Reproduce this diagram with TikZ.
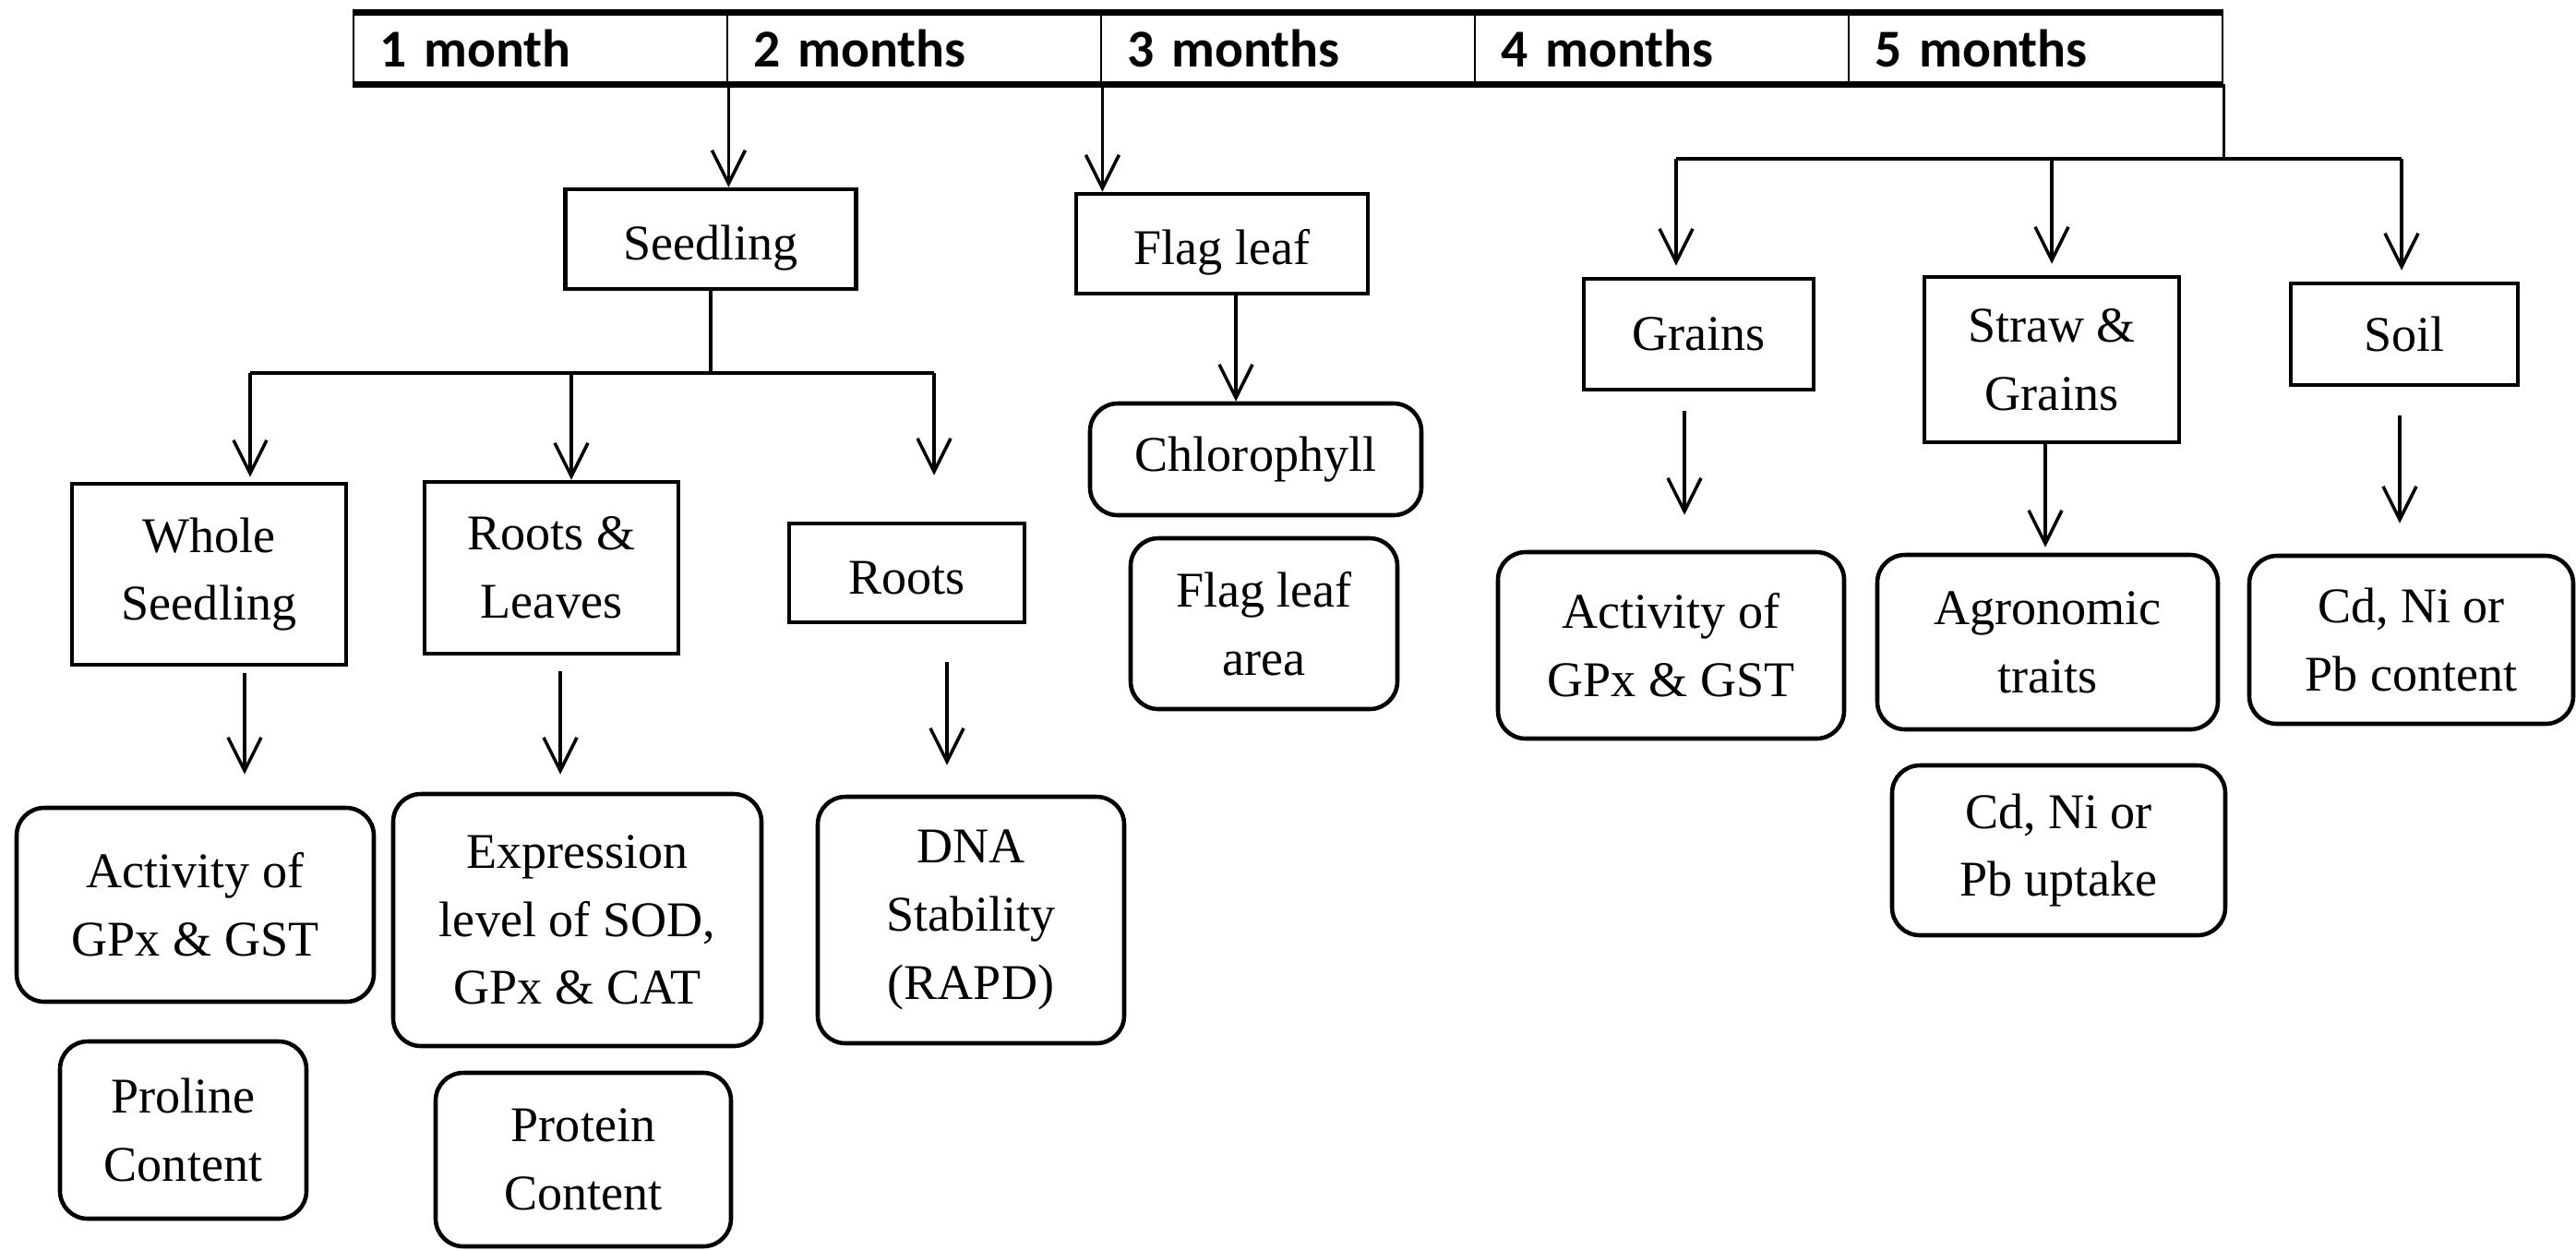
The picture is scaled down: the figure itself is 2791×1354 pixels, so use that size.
\documentclass[tikz,border=0pt]{standalone}
\usepackage{fontspec}
\setmainfont{Liberation Serif}
\newfontfamily\headfont{Carlito}
\usetikzlibrary{arrows.meta}

\begin{document}
\begin{tikzpicture}[
    x=0.1mm, y=-0.1mm,
    box/.style={draw, line width=1.3pt, align=center, inner sep=0pt,
                font=\fontsize{15.4}{21}\selectfont},
    rbox/.style={box, rounded corners=3mm},
    oneline/.style={text height=13pt, text depth=0pt},
    cell/.style={draw, line width=0.8pt, minimum width=40.5mm, minimum height=7.5mm,
                 inner xsep=2.8mm, inner ysep=0pt, text width=34.9mm, align=left,
                 font=\headfont\bfseries\fontsize{16.4}{18}\selectfont},
    bar/.style={line width=1.9pt},
    conn/.style={line width=1pt},
    arr/.style={conn, -{Straight Barb[length=3.6mm, width=3.6mm]}}]
    \useasboundingbox (0,0) rectangle (2791,1354);

    % Zeitleiste
    \node[cell] (m1) at (585.5,52.5) {1 month};
    \node[cell] (m2) at (990.5,52.5) {2 months};
    \node[cell] (m3) at (1395.5,52.5) {3 months};
    \node[cell] (m4) at (1800.5,52.5) {4 months};
    \node[cell] (m5) at (2205.5,52.5) {5 months};
    \draw[bar] (m1.north west) -- (m5.north east);
    \draw[bar] (m1.south west) -- (m5.south east);

    % Keimling
    \node[box, oneline, minimum width=31.5mm, minimum height=10.8mm] (seed) at (770,259) {Seedling};
    \node[box, minimum width=29.7mm, minimum height=19.6mm] (whole) at (226.5,622) {Whole\\Seedling};
    \node[box, minimum width=27.5mm, minimum height=18.6mm] (rl) at (597.5,615) {Roots \&\\Leaves};
    \node[box, oneline, minimum width=25.5mm, minimum height=10.7mm] (roots) at (982.5,620.5) {Roots};
    \node[rbox, minimum width=38.7mm, minimum height=21mm] (act1) at (211.5,980) {Activity of\\GPx \& GST};
    \node[rbox, minimum width=26.7mm, minimum height=19.2mm] (pro) at (198.5,1224) {Proline\\Content};
    \node[rbox, minimum width=39.9mm, minimum height=27.3mm] (expr) at (625.5,996.5) {Expression\\level of SOD,\\GPx \& CAT};
    \node[rbox, minimum width=32mm, minimum height=18.8mm] (prot) at (632,1256) {Protein\\Content};
    \node[rbox, minimum width=33.2mm, minimum height=26.7mm] (dna) at (1052,996.5) {DNA\\Stability\\(RAPD)};

    % Fahnenblatt
    \node[box, oneline, minimum width=31.6mm, minimum height=10.8mm] (flag) at (1324,264) {Flag leaf};
    \node[rbox, minimum width=35.9mm, minimum height=12.1mm] (chl) at (1360.5,497.5) {Chlorophyll};
    \node[rbox, minimum width=28.9mm, minimum height=18.5mm] (area) at (1369.5,675.5) {Flag leaf\\area};

    % Ernte
    \node[box, minimum width=24.9mm, minimum height=12mm] (grains) at (1840.5,362) {Grains};
    \node[box, minimum width=27.6mm, minimum height=17.9mm] (straw) at (2223,389.5) {Straw \&\\Grains};
    \node[box, minimum width=24.6mm, minimum height=11mm] (soil) at (2605,362) {Soil};
    \node[rbox, minimum width=37.5mm, minimum height=20.2mm] (act2) at (1810.5,699) {Activity of\\GPx \& GST};
    \node[rbox, minimum width=36.9mm, minimum height=18.9mm] (agro) at (2218.5,695.5) {Agronomic\\traits};
    \node[rbox, minimum width=36.1mm, minimum height=18.4mm] (upt) at (2230.5,921) {Cd, Ni or\\Pb uptake};
    \node[rbox, minimum width=35.1mm, minimum height=18.2mm] (cont) at (2612.5,693) {Cd, Ni or\\Pb content};

    % Pfeile von der Zeitleiste
    \draw[arr] (m1.south east) -- (m1.south east |- seed.north);
    \draw[arr] (m2.south east) -- (m2.south east |- flag.north);
    \coordinate (h5l) at (1816,172);
    \coordinate (h5r) at (2602,172);
    \draw[conn] (m5.south east) -- (m5.south east |- h5l);
    \draw[conn] (h5l) -- (h5r);
    \draw[arr, shorten >=1.2mm] (h5l) -- (h5l |- grains.north);
    \draw[arr, shorten >=1.2mm] (straw.north |- h5l) -- (straw.north);
    \draw[arr, shorten >=1.2mm] (h5r) -- (h5r |- soil.north);

    % Verzweigung Keimling
    \coordinate (s1) at (271,404);
    \coordinate (s2) at (619,404);
    \coordinate (s3) at (1012,404);
    \draw[conn] (seed.south) -- (seed.south |- s1);
    \draw[conn] (s1) -- (s3);
    \draw[arr, shorten >=0.5mm] (s1) -- (s1 |- whole.north);
    \draw[arr] (s2) -- (s2 |- rl.north);
    \draw[arr, shorten >=5mm] (s3) -- (s3 |- roots.north);

    % Pfeile zu den Messungen
    \coordinate (w1) at ([xshift=3.85mm]whole.south);
    \coordinate (w2) at ([xshift=0.95mm]rl.south);
    \coordinate (w3) at ([xshift=4.35mm]roots.south);
    \coordinate (w4) at ([xshift=1.5mm]flag.south);
    \coordinate (w5) at ([xshift=-1.55mm]grains.south);
    \coordinate (w6) at ([xshift=-0.7mm]straw.south);
    \coordinate (w7) at ([xshift=-0.5mm]soil.south);
    \draw[arr, shorten <=0.7mm, shorten >=3.4mm] (w1) -- (w1 |- act1.north);
    \draw[arr, shorten <=1.7mm, shorten >=1.9mm] (w2) -- (w2 |- expr.north);
    \draw[arr, shorten <=4.1mm, shorten >=3.2mm] (w3) -- (w3 |- dna.north);
    \draw[arr] (w4) -- (w4 |- chl.north);
    \draw[arr, shorten <=2.1mm, shorten >=3.8mm] (w5) -- (w5 |- act2.north);
    \draw[arr, shorten >=0.6mm] (w6) -- (w6 |- agro.north);
    \draw[arr, shorten <=3.1mm, shorten >=3.3mm] (w7) -- (w7 |- cont.north);
\end{tikzpicture}
\end{document}
